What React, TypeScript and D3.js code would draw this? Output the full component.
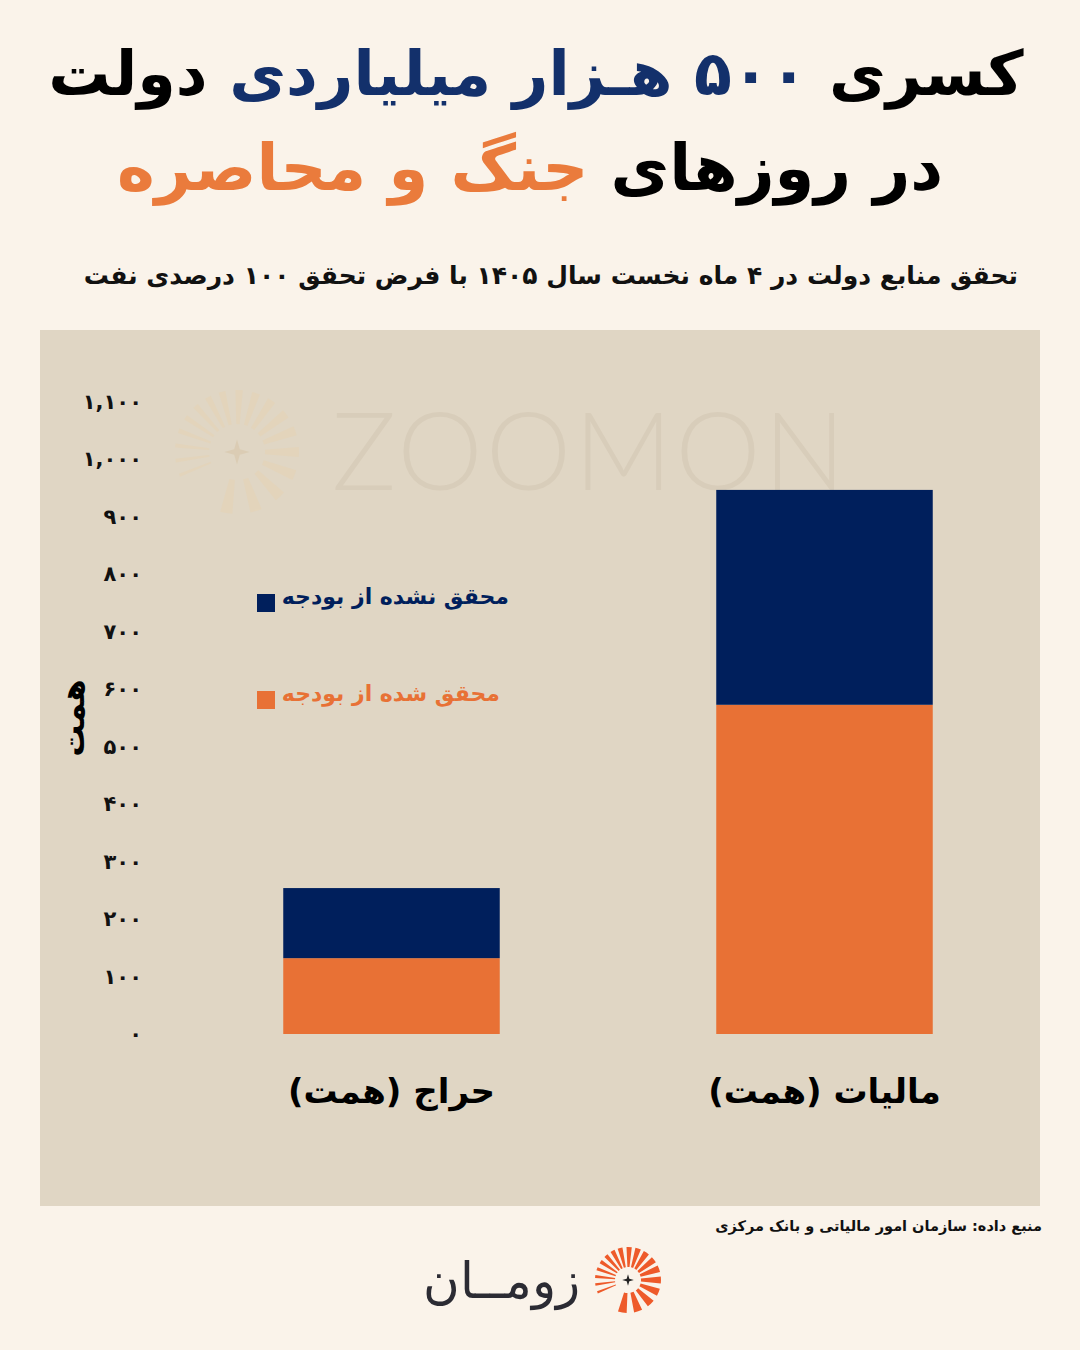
import React from "react";
import * as d3 from "d3";

const categories = ["حراج (همت)", "مالیات (همت)"];
const realized = [132, 573];
const unrealized = [122, 374];
const yTickValues = [0, 100, 200, 300, 400, 500, 600, 700, 800, 900, 1000, 1100];
const seriesNames = ["محقق نشده از بودجه", "محقق شده از بودجه"];

const titleLine1 = ["کسری ", "۵۰۰ هـزار میلیاردی ", "دولت"];
const titleLine2 = ["در روزهای ", "جنگ و محاصره"];
const subtitle = "تحقق منابع دولت در ۴ ماه نخست سال ۱۴۰۵ با فرض تحقق ۱۰۰ درصدی نفت";
const yTitle = "همت";
const source = "منبع داده: سازمان امور مالیاتی و بانک مرکزی";
const brand = "زومــان";

const BG = "#faf3ea";
const PANEL = "#e0d6c4";
const NAVY = "#001f5c";
const ORANGE = "#e87135";
const TITLE_NAVY = "#13306b";
const TITLE_ORANGE = "#ea7b3c";
const FONT = "'DejaVu Sans', 'Noto Sans', sans-serif";

const toFa = (s: string) => s.replace(/\d/g, (d) => "۰۱۲۳۴۵۶۷۸۹"[+d]);
const fmt = d3.format(",");

function Sunburst({ cx, cy, r0, r1, color, star, opacity = 1, wScale = 1 }: any) {
  const angles = [-112, -98, -84, -70, -56, -42, -28, -14, 2, 18, 34, 52, 70, 90, 112, 136, 162, 190];
  const arc = d3.arc();
  return (
    <g transform={`translate(${cx},${cy})`} opacity={opacity}>
      {angles.map((a, i) => {
        const w = (2.2 + (i / angles.length) * 7) * wScale;
        const rad = (a * Math.PI) / 180;
        const dw = w / r1;
        const d = arc({
          innerRadius: r0,
          outerRadius: r1,
          startAngle: rad - dw / 2,
          endAngle: rad + dw / 2,
        } as any) as string;
        return <path key={i} d={d} fill={color} />;
      })}
      <path
        d={`M0,${-r0 * 0.45} L${r0 * 0.1},${-r0 * 0.1} L${r0 * 0.45},0 L${r0 * 0.1},${r0 * 0.1} L0,${r0 * 0.45} L${-r0 * 0.1},${r0 * 0.1} L${-r0 * 0.45},0 L${-r0 * 0.1},${-r0 * 0.1} Z`}
        fill={star}
      />
    </g>
  );
}

export default function App() {
  const x = d3.scaleBand<string>().domain(categories).range([175, 1041]).paddingInner(0.5).paddingOuter(0.25);
  const y = d3.scaleLinear().domain([0, 1100]).range([1034, 402]);

  return (
    <svg width={1080} height={1350} style={{ position: "absolute", left: 0, top: 0 }} fontFamily={FONT}>
      <rect x={0} y={0} width={1080} height={1350} fill={BG} />

      {/* Title */}
      <text x={536} y={95} textAnchor="middle" direction="rtl" fontSize={62} fontWeight={900}>
        <tspan fill="#000">{titleLine1[0]}</tspan>
        <tspan fill={TITLE_NAVY}>{titleLine1[1]}</tspan>
        <tspan fill="#000">{titleLine1[2]}</tspan>
      </text>
      <text x={530} y={190} textAnchor="middle" direction="rtl" fontSize={64} fontWeight={900}>
        <tspan fill="#000">{titleLine2[0]}</tspan>
        <tspan fill={TITLE_ORANGE}>{titleLine2[1]}</tspan>
      </text>

      <text x={1018} y={284} textAnchor="start" direction="rtl" fontSize={25} fontWeight={700} fill="#111">
        {subtitle}
      </text>

      {/* Panel */}
      <rect x={40} y={330} width={1000} height={876} fill={PANEL} />

      {/* Watermark */}
      <Sunburst cx={237} cy={452} r0={28} r1={62} color="#e5d4b8" star="#d9c9ae" opacity={0.7} wScale={1.4} />
      <text x={590} y={490} textAnchor="middle" fontFamily="Lato, 'Open Sans', sans-serif" fontWeight={300} fontSize={108} fill="#d8cdba" letterSpacing={3}>
        ZOOMON
      </text>

      {/* Y axis ticks */}
      {yTickValues.map((v) => (
        <text key={v} x={142} y={y(v) + 7} textAnchor="end" fontSize={21} fontWeight={700} fill="#111">
          {toFa(fmt(v))}
        </text>
      ))}
      <text
        transform={`translate(84,718) rotate(-90)`}
        textAnchor="middle"
        direction="rtl"
        fontSize={32}
        fontWeight={900}
        fill="#000"
      >
        {yTitle}
      </text>

      {/* Bars */}
      {categories.map((c, i) => {
        const x0 = x(c)!;
        const w = x.bandwidth();
        return (
          <g key={c}>
            <rect x={x0} y={y(realized[i])} width={w} height={y(0) - y(realized[i])} fill={ORANGE} />
            <rect
              x={x0}
              y={y(realized[i] + unrealized[i])}
              width={w}
              height={y(realized[i]) - y(realized[i] + unrealized[i])}
              fill={NAVY}
            />
            <text x={x0 + w / 2} y={1103} textAnchor="middle" direction="rtl" fontSize={34} fontWeight={900} fill="#000">
              {c}
            </text>
          </g>
        );
      })}

      {/* Legend */}
      <rect x={257} y={594} width={18} height={18} fill={NAVY} />
      <text x={509} y={604} textAnchor="start" direction="rtl" fontSize={22} fontWeight={700} fill={NAVY}>
        {seriesNames[0]}
      </text>
      <rect x={257} y={691} width={18} height={18} fill={ORANGE} />
      <text x={500} y={701} textAnchor="start" direction="rtl" fontSize={22} fontWeight={700} fill={ORANGE}>
        {seriesNames[1]}
      </text>

      {/* Source */}
      <text x={1042} y={1231} textAnchor="start" direction="rtl" fontSize={14.5} fontWeight={700} fill="#111">
        {source}
      </text>

      {/* Brand */}
      <text x={580} y={1298} textAnchor="start" direction="rtl" fontSize={50} fontWeight={300} fill="#2b2b33">
        {brand}
      </text>
      <Sunburst cx={628} cy={1280} r0={13} r1={33} color="#ee5a2a" star="#222" />
    </svg>
  );
}
